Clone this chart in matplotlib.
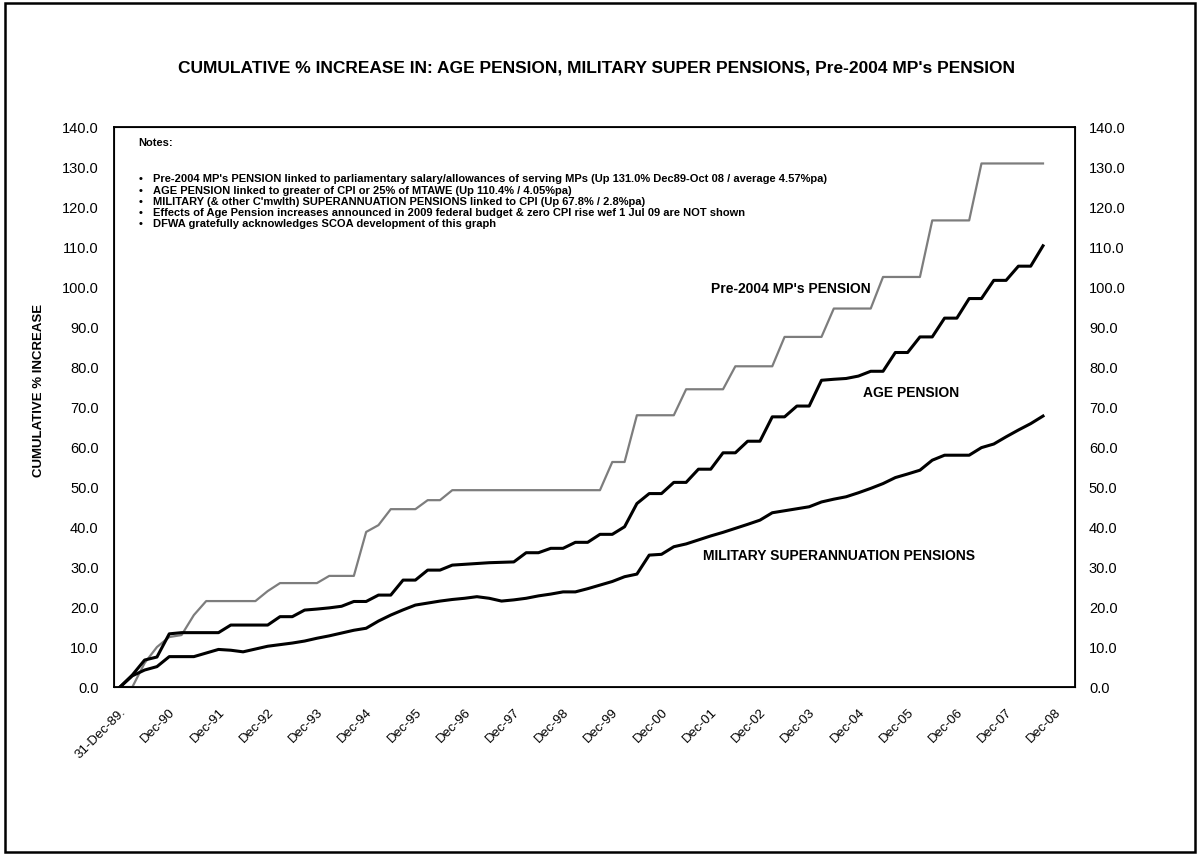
import numpy as np
import matplotlib
matplotlib.use("Agg")
import matplotlib.pyplot as plt
from matplotlib.patches import Rectangle

plt.rcParams['font.family'] = ['Liberation Sans', 'DejaVu Sans']

# quarterly values, 31-Dec-89 onwards (cumulative % increase)
mp_pension = [0, 0, 6, 10, 12.5, 13, 18, 21.5, 21.5, 21.5, 21.5, 21.5,
              24, 26, 26, 26, 26, 27.8, 27.8, 27.8, 38.8, 40.5, 44.5, 44.5,
              44.5, 46.75, 46.75, 49.25, 49.25, 49.25, 49.25, 49.25, 49.25, 49.25, 49.25, 49.25,
              49.25, 49.25, 49.25, 49.25, 56.3, 56.3, 68, 68, 68, 68, 74.5, 74.5,
              74.5, 74.5, 80.25, 80.25, 80.25, 80.25, 87.6, 87.6, 87.6, 87.6, 94.7, 94.7,
              94.7, 94.7, 102.6, 102.6, 102.6, 102.6, 116.75, 116.75, 116.75, 116.75, 131.0, 131.0,
              131.0, 131.0, 131.0, 131.0]
age_pension = [0, 3, 6.75, 7.5, 13.3, 13.6, 13.6, 13.6, 13.6, 15.5, 15.5, 15.5,
               15.5, 17.6, 17.6, 19.25, 19.5, 19.8, 20.2, 21.4, 21.4, 23, 23, 26.75,
               26.75, 29.25, 29.25, 30.5, 30.7, 30.9, 31.1, 31.2, 31.3, 33.6, 33.6, 34.7,
               34.7, 36.2, 36.2, 38.2, 38.2, 40.1, 45.9, 48.4, 48.4, 51.2, 51.2, 54.5,
               54.5, 58.6, 58.6, 61.5, 61.5, 67.6, 67.6, 70.3, 70.3, 76.75, 77, 77.2,
               77.8, 79, 79, 83.7, 83.7, 87.6, 87.6, 92.3, 92.3, 97.2, 97.2, 101.75,
               101.75, 105.3, 105.3, 110.4]
military = [0, 2.8, 4.25, 5.1, 7.6, 7.6, 7.6, 8.5, 9.4, 9.2, 8.8, 9.5,
            10.2, 10.6, 11.0, 11.5, 12.2, 12.8, 13.5, 14.2, 14.7, 16.5, 18.0, 19.3,
            20.5, 21.0, 21.5, 21.9, 22.2, 22.6, 22.2, 21.5, 21.8, 22.2, 22.8, 23.25,
            23.8, 23.8, 24.6, 25.5, 26.4, 27.6, 28.25, 33, 33.2, 35.1, 35.8, 36.8,
            37.8, 38.7, 39.7, 40.7, 41.75, 43.6, 44.1, 44.6, 45.1, 46.3, 47, 47.6,
            48.6, 49.7, 50.9, 52.4, 53.3, 54.25, 56.75, 58, 58, 58, 59.9, 60.8,
            62.6, 64.3, 65.9, 67.8]

tick_labels = ['31-Dec-89.'] + ['Dec-%02d' % (y % 100) for y in range(1990, 2009)]

notes = [
    "Pre-2004 MP's PENSION linked to parliamentary salary/allowances of serving MPs (Up 131.0% Dec89-Oct 08 / average 4.57%pa)",
    "AGE PENSION linked to greater of CPI or 25% of MTAWE (Up 110.4% / 4.05%pa)",
    "MILITARY (& other C'mwlth) SUPERANNUATION PENSIONS linked to CPI (Up 67.8% / 2.8%pa)",
    "Effects of Age Pension increases announced in 2009 federal budget & zero CPI rise wef 1 Jul 09 are NOT shown",
    "DFWA gratefully acknowledges SCOA development of this graph",
]

W, H = 1200, 855
fig = plt.figure(figsize=(W / 100, H / 100), dpi=100)
ax = fig.add_axes([114 / W, 1 - 687 / H, (1075 - 114) / W, (687 - 127.5) / H])

ax.plot(np.arange(len(mp_pension)), mp_pension, color='#7d7d7d', lw=1.6)
ax.plot(np.arange(len(age_pension)), age_pension, color='black', lw=2.2)
ax.plot(np.arange(len(military)), military, color='black', lw=2.2)

ax.set_xlim(-0.49, 77.6)
ax.set_ylim(0, 140)
ax.set_xticks(np.arange(0, 4 * len(tick_labels), 4))
ax.set_xticklabels(tick_labels, rotation=45, ha='right', va='top', rotation_mode='anchor', fontsize=9.5)
yt = np.arange(0, 141, 10)
ax.set_yticks(yt)
ax.set_yticklabels(['%.1f' % v for v in yt], fontsize=10.5)
ax.tick_params(axis='both', length=0)
ax.tick_params(axis='y', pad=11)
ax.tick_params(axis='x', pad=14)
for s in ax.spines.values():
    s.set_linewidth(1.3)

ax2 = ax.twinx()
ax2.set_ylim(0, 140)
ax2.set_yticks(yt)
ax2.set_yticklabels(['%.1f' % v for v in yt], fontsize=10.5)
ax2.tick_params(axis='y', length=0, pad=10)

# series labels
ax.text(61.0, 99.7, "Pre-2004 MP's PENSION", ha='right', va='center', fontsize=10, fontweight='bold')
ax.text(60.4, 73.5, "AGE PENSION", ha='left', va='center', fontsize=10, fontweight='bold')
ax.text(47.4, 32.8, "MILITARY SUPERANNUATION PENSIONS", ha='left', va='center', fontsize=10, fontweight='bold')

fig.text(596 / W, 1 - 68 / H,
         "CUMULATIVE % INCREASE IN: AGE PENSION, MILITARY SUPER PENSIONS, Pre-2004 MP's PENSION",
         ha='center', va='center', fontsize=12.5, fontweight='bold')
fig.text(39 / W, 1 - 390 / H, "CUMULATIVE % INCREASE", rotation=90, ha='center', va='center',
         fontsize=9.5, fontweight='bold')

fig.text(138 / W, 1 - 143.5 / H, "Notes:", ha='left', va='center', fontsize=8, fontweight='bold')
for i, line in enumerate(notes):
    yy = 1 - (179.3 + i * 11.25) / H
    fig.text(139 / W, yy, u"\u2022", ha='left', va='center', fontsize=8, fontweight='bold')
    fig.text(153 / W, yy, line, ha='left', va='center', fontsize=8, fontweight='bold')

fig.patches.append(Rectangle((5 / W, 3 / H), 1190 / W, 849 / H, transform=fig.transFigure,
                             fill=False, edgecolor='black', lw=1.8))

fig.savefig('out.png', dpi=100)
